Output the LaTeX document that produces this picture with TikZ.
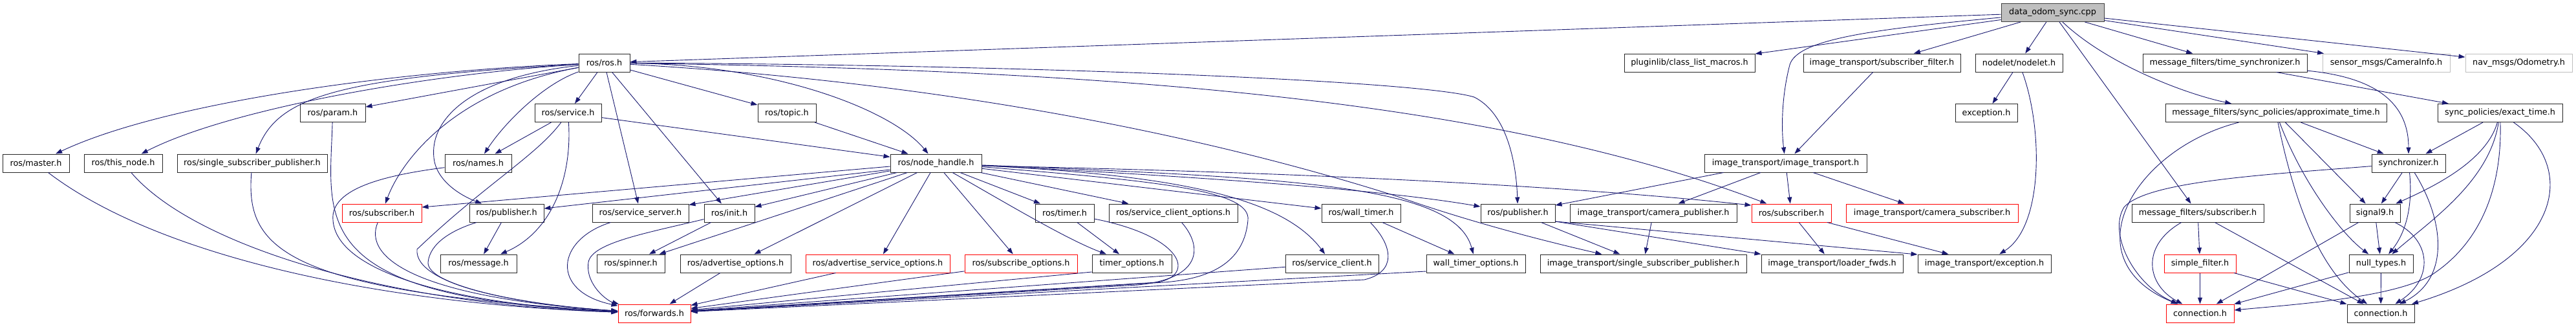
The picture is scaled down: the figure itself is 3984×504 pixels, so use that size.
\documentclass[tikz,border=0pt]{standalone}
\usepackage{fontspec}
\setmainfont{DejaVu Sans}
\usetikzlibrary{arrows.meta}
\definecolor{edgec}{HTML}{191970}
\definecolor{redc}{HTML}{FF0000}
\definecolor{grayc}{HTML}{BFBFBF}
\definecolor{darkc}{HTML}{404040}
\begin{document}
\begin{tikzpicture}[x=1pt,y=-1pt,
  box/.style={draw=black!85, line width=1pt, fill=white, minimum height=28pt, inner sep=0pt, font=\fontsize{12.8}{15}\selectfont},
  redbox/.style={box, draw=redc},
  graybox/.style={box, draw=grayc},
  rootbox/.style={box, fill=grayc, draw=darkc},
  edg/.style={draw=edgec, line width=0.9pt, -{Triangle[length=10pt,width=7pt]}}]
\useasboundingbox (0,0) rectangle (3984,504);
% ---- nodes ----
\node[rootbox, minimum width=159] (root) at (3174.5,19.5) {data\_odom\_sync.cpp};
\node[box, minimum width=79] (ros) at (934.5,97) {ros/ros.h};
\node[box, minimum width=202] (plug) at (2613,97) {pluginlib/class\_list\_macros.h};
\node[box, minimum width=243] (itsf) at (2910.5,97) {image\_transport/subscriber\_filter.h};
\node[box, minimum width=135] (nodelet) at (3122.5,97) {nodelet/nodelet.h};
\node[box, minimum width=254] (mfts) at (3441,97) {message\_filters/time\_synchronizer.h};
\node[graybox, minimum width=197] (cam) at (3690.5,97) {sensor\_msgs/CameraInfo.h};
\node[graybox, minimum width=165] (odom) at (3895.5,97) {nav\_msgs/Odometry.h};
\node[box, minimum width=101] (param) at (514.5,174.5) {ros/param.h};
\node[box, minimum width=103] (service) at (878.5,174.5) {ros/service.h};
\node[box, minimum width=90] (topic) at (1217,174.5) {ros/topic.h};
\node[box, minimum width=96] (exc) at (3072,174.5) {exception.h};
\node[box, minimum width=342] (approx) at (3520,174.5) {message\_filters/sync\_policies/approximate\_time.h};
\node[box, minimum width=193] (exact) at (3866.5,174.5) {sync\_policies/exact\_time.h};
\node[box, minimum width=103] (master) at (55.5,252) {ros/master.h};
\node[box, minimum width=121] (thisnode) at (190.5,252) {ros/this\_node.h};
\node[box, minimum width=232] (ssp) at (390,252) {ros/single\_subscriber\_publisher.h};
\node[box, minimum width=103] (names) at (739.5,252) {ros/names.h};
\node[box, minimum width=141] (nh) at (1447.5,252) {ros/node\_handle.h};
\node[box, minimum width=251] (itit) at (2761.5,252) {image\_transport/image\_transport.h};
\node[box, minimum width=114] (sync) at (3725,252) {synchronizer.h};
\node[redbox, minimum width=123] (sub1) at (590.5,329) {ros/subscriber.h};
\node[box, minimum width=115] (pub1) at (783.5,329) {ros/publisher.h};
\node[box, minimum width=149] (ss) at (990.5,329) {ros/service\_server.h};
\node[box, minimum width=78] (init) at (1128,329) {ros/init.h};
\node[box, minimum width=91] (timer) at (1646.5,329) {ros/timer.h};
\node[box, minimum width=199] (sco) at (1814.5,329) {ros/service\_client\_options.h};
\node[box, minimum width=122] (wt) at (2105,329) {ros/wall\_timer.h};
\node[box, minimum width=115] (pub2) at (2347.5,329) {ros/publisher.h};
\node[box, minimum width=258] (itcp) at (2557,329) {image\_transport/camera\_publisher.h};
\node[redbox, minimum width=123] (sub2) at (2770.5,329) {ros/subscriber.h};
\node[redbox, minimum width=266] (itcs) at (2988,329) {image\_transport/camera\_subscriber.h};
\node[box, minimum width=204] (mfsub) at (3399,329) {message\_filters/subscriber.h};
\node[box, minimum width=78] (sig) at (3673,329) {signal9.h};
\node[box, minimum width=118] (msg) at (740,407) {ros/message.h};
\node[box, minimum width=105] (spin) at (975.5,407) {ros/spinner.h};
\node[box, minimum width=171] (ao) at (1137.5,407) {ros/advertise\_options.h};
\node[redbox, minimum width=223] (aso) at (1357.5,407) {ros/advertise\_service\_options.h};
\node[redbox, minimum width=174] (sopt) at (1579,407) {ros/subscribe\_options.h};
\node[box, minimum width=123] (topt) at (1750.5,407) {timer\_options.h};
\node[box, minimum width=144] (sc) at (2060,407) {ros/service\_client.h};
\node[box, minimum width=153] (wto) at (2282.5,407) {wall\_timer\_options.h};
\node[box, minimum width=319] (itssp) at (2541.5,407) {image\_transport/single\_subscriber\_publisher.h};
\node[box, minimum width=219] (itlf) at (2833.5,407) {image\_transport/loader\_fwds.h};
\node[box, minimum width=206] (itex) at (3069,407) {image\_transport/exception.h};
\node[redbox, minimum width=111] (sf) at (3402.5,407) {simple\_filter.h};
\node[box, minimum width=99] (nt) at (3682.5,407) {null\_types.h};
\node[redbox, minimum width=112] (fwd) at (1012,484) {ros/forwards.h};
\node[redbox, minimum width=105] (conn1) at (3402.5,484) {connection.h};
\node[box, minimum width=104] (conn2) at (3682,484) {connection.h};
% ---- edges: root ----
\draw[edg] (root) -- (ros);
\draw[edg] (root) -- (plug);
\draw[edg] (root) -- (itsf);
\draw[edg] (root) .. controls (2900,45) and (2780,60) .. (2768,100) .. controls (2755,150) and (2755,200) .. (itit);
\draw[edg] (root) -- (nodelet);
\draw[edg] (root) -- (mfsub);
\draw[edg] (root) .. controls (3260,100) and (3380,145) .. (approx);
\draw[edg] (root) -- (mfts);
\draw[edg] (root) -- (cam);
\draw[edg] (root) -- (odom);
% ---- ros.h ----
\draw[edg] (ros) .. controls (600,110) and (250,160) .. (master);
\draw[edg] (ros) .. controls (650,115) and (350,170) .. (thisnode);
\draw[edg] (ros) .. controls (520,120) and (430,150) .. (ssp);
\draw[edg] (ros) -- (param);
\draw[edg] (ros) .. controls (700,140) and (620,250) .. (sub1);
\draw[edg] (ros) .. controls (720,120) and (660,190) .. (672,250) .. controls (680,285) and (720,305) .. (pub1);
\draw[edg] (ros) .. controls (840,130) and (780,190) .. (names);
\draw[edg] (ros) -- (service);
\draw[edg] (ros) -- (ss);
\draw[edg] (ros) -- (init);
\draw[edg] (ros) -- (topic);
\draw[edg] (ros) .. controls (1200,100) and (1380,170) .. (nh);
\draw[edg] (ros) .. controls (1600,100) and (2200,125) .. (2280,150) .. controls (2330,175) and (2345,250) .. (pub2);
\draw[edg] (ros) .. controls (1700,108) and (2300,150) .. (sub2);
\draw[edg] (ros) .. controls (1500,130) and (1900,220) .. (2166,305) .. controls (2280,345) and (2400,375) .. (itssp);
% ---- service, topic ----
\draw[edg] (service) -- (names);
\draw[edg] (service) .. controls (885,280) and (850,360) .. (msg);
\draw[edg] (service) .. controls (830,240) and (750,285) .. (645,385) .. controls (640,440) and (800,470) .. (fwd);
\draw[edg] (service) -- (nh);
\draw[edg] (topic) -- (nh);
% ---- into forwards from the left ----
\draw[edg] (master) .. controls (250,400) and (600,470) .. (fwd);
\draw[edg] (thisnode) .. controls (300,380) and (600,470) .. (fwd);
\draw[edg] (ssp) .. controls (380,380) and (430,450) .. (fwd);
\draw[edg] (param) .. controls (510,340) and (470,460) .. (fwd);
\draw[edg] (names) .. controls (600,270) and (510,290) .. (515,340) .. controls (520,420) and (700,470) .. (fwd);
\draw[edg] (sub1) .. controls (560,400) and (650,460) .. (fwd);
\draw[edg] (pub1) .. controls (700,355) and (665,375) .. (662,405) .. controls (660,440) and (800,470) .. (fwd);
\draw[edg] (pub1) -- (msg);
\draw[edg] (ss) .. controls (860,370) and (850,450) .. (fwd);
\draw[edg] (init) -- (spin);
\draw[edg] (init) .. controls (1000,360) and (915,375) .. (910,405) .. controls (905,440) and (940,465) .. (fwd);
% ---- node_handle ----
\draw[edg] (nh) -- (spin);
\draw[edg] (nh) -- (ss);
\draw[edg] (nh) -- (init);
\draw[edg] ([yshift=-5pt]nh.west) -- ([yshift=9pt]sub1.east);
\draw[edg] ([yshift=-10pt]nh.west) -- ([yshift=7pt]pub1.east);
\draw[edg] (nh) -- (ao);
\draw[edg] (nh) -- (aso);
\draw[edg] (nh) -- (sopt);
\draw[edg] (nh) -- (timer);
\draw[edg] (nh) .. controls (1550,310) and (1650,370) .. (topt);
\draw[edg] (nh) -- (sco);
\draw[edg] (nh) .. controls (1800,270) and (1980,300) .. (sc);
\draw[edg] (nh) -- (wt);
\draw[edg] (nh) .. controls (2000,275) and (2250,285) .. (wto);
\draw[edg] (nh) .. controls (1900,275) and (2150,295) .. (pub2);
\draw[edg] ([yshift=-4pt]nh.east) .. controls (2200,270) and (2550,300) .. ([yshift=12pt]sub2.west);
\draw[edg] (nh) .. controls (1800,280) and (1935,295) .. (1930,340) .. controls (1925,400) and (1880,430) .. (1800,436) -- (fwd);
% ---- timers, options ----
\draw[edg] (timer) -- (topt);
\draw[edg] (timer) .. controls (1830,365) and (1850,425) .. (1790,436) -- (fwd);
\draw[edg] (sco) .. controls (1860,380) and (1860,430) .. (1760,440) -- (fwd);
\draw[edg] (wt) -- (wto);
\draw[edg] (wt) .. controls (2155,380) and (2160,420) .. (2110,432) -- (fwd);
\draw[edg] (ao) -- (fwd);
\draw[edg] (aso) -- (fwd);
\draw[edg] (sopt) -- (fwd);
\draw[edg] ([yshift=-13pt]topt.west) -- (fwd);
\draw[edg] (sc) -- (fwd);
\draw[edg] ([yshift=-12pt]wto.west) -- (fwd);
% ---- image_transport, nodelet ----
\draw[edg] (itsf) -- (itit);
\draw[edg] (nodelet) -- (exc);
\draw[edg] (nodelet) .. controls (3160,200) and (3160,350) .. (itex);
\draw[edg] ([xshift=30pt]itit.south west) -- ([yshift=12pt]pub2.east);
\draw[edg] (itit) -- (itcp);
\draw[edg] (itit) -- (sub2);
\draw[edg] (itit) -- (itcs);
\draw[edg] (pub2) -- (itssp);
\draw[edg] ([yshift=-13pt]pub2.east) -- (itlf.north west);
\draw[edg] ([yshift=-13pt]pub2.east) -- ([yshift=14pt]itex.west);
\draw[edg] (itcp) -- (itssp);
\draw[edg] (sub2) -- (itlf);
\draw[edg] (sub2) -- (itex);
% ---- message_filters ----
\draw[edg] (mfts) -- (exact);
\draw[edg] (mfts) .. controls (3660,118) and (3725,150) .. (sync);
\draw[edg] (approx) .. controls (3300,230) and (3200,400) .. (conn1);
\draw[edg] (approx) -- (sync);
\draw[edg] (approx) -- (sig);
\draw[edg] (approx) .. controls (3560,280) and (3620,360) .. (nt);
\draw[edg] (approx) .. controls (3550,320) and (3590,420) .. (conn2);
\draw[edg] (exact) -- (sync);
\draw[edg] (exact) .. controls (3845,250) and (3760,290) .. (sig);
\draw[edg] (exact) .. controls (3850,280) and (3760,340) .. (nt);
\draw[edg] (exact) .. controls (3870,300) and (3830,380) .. (3760,425) .. controls (3700,460) and (3550,470) .. (conn1);
\draw[edg] (exact) .. controls (3990,260) and (3960,400) .. (conn2);
\draw[edg] (sync) -- (sig);
\draw[edg] (sync) .. controls (3732,320) and (3720,360) .. (nt);
\draw[edg] (sync) .. controls (3780,340) and (3790,430) .. (conn2);
\draw[edg] (sync) .. controls (3500,270) and (3320,280) .. (3285,320) .. controls (3260,360) and (3300,440) .. (conn1);
\draw[edg] (sig) -- (nt);
\draw[edg] (sig) .. controls (3760,370) and (3765,430) .. (conn2);
\draw[edg] (sig) -- (conn1);
\draw[edg] (nt) -- (conn2);
\draw[edg] (nt) -- (conn1);
\draw[edg] (mfsub) -- (sf);
\draw[edg] (mfsub) .. controls (3310,380) and (3320,440) .. (conn1);
\draw[edg] (mfsub) -- (conn2);
\draw[edg] (sf) -- (conn1);
\draw[edg] (sf) -- (conn2);
\end{tikzpicture}
\end{document}
